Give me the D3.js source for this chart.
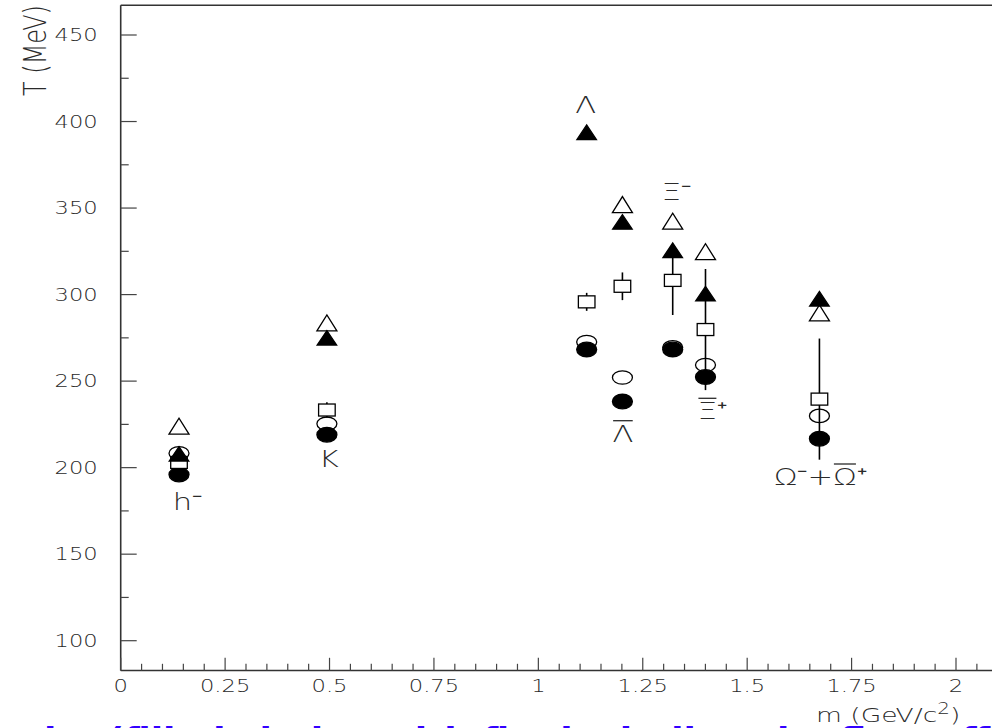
<!DOCTYPE html>
<html>
<head>
<meta charset="utf-8">
<script src="https://cdn.jsdelivr.net/npm/d3@7"></script>
<style>
  html, body { margin: 0; padding: 0; background: #fff; overflow: hidden; }
  svg { display: block; }
  text { font-family: "DejaVu Sans", "Liberation Sans", sans-serif; font-weight: 200; }
</style>
</head>
<body>
<svg id="chart" width="992" height="728"></svg>
<script>
// Particle species, plotted at (slightly shifted) mass in GeV/c^2
const particles = ["h⁻", "K", "Λ", "Λ⁻", "Ξ⁻", "Ξ⁺", "Ω⁻+Ω⁺"];
const mass = [0.1396, 0.4937, 1.1157, 1.2013, 1.3217, 1.4002, 1.673];

// Inverse slope T (MeV) for each marker series
const openTriangle   = [224.0, 283.6, null, 352.0, 342.4, 324.8, 289.4];
const filledTriangle = [208.0, 275.0, 393.8, 342.0, 325.6, 300.5, 297.6];
const openSquare     = [203.0, 233.3, 295.8, 304.8, 308.2, 279.8, 239.6];
const squareError    = [2.0, 4.5, 5.2, 8.0, 20.0, 35.0, 35.0];
const openCircle     = [208.3, 225.4, 272.6, 252.1, 269.5, 259.3, 229.9];
const filledCircle   = [196.0, 219.0, 268.3, 238.2, 268.3, 252.4, 216.7];

// Axis ticks
const xMajorTicks = [0, 0.25, 0.5, 0.75, 1, 1.25, 1.5, 1.75, 2];
const xTickLabels = ["0", "0.25", "0.5", "0.75", "1", "1.25", "1.5", "1.75", "2"];
const yMajorTicks = [100, 150, 200, 250, 300, 350, 400, 450];
const yTickLabels = ["100", "150", "200", "250", "300", "350", "400", "450"];

const svg = d3.select("#chart");
const SX = 1.33;          // wide-lettering stretch of all plot text
const ink = "#000";
const textInk = "#2a2a2a";

const x = d3.scaleLinear().domain([0, 2]).range([120.7, 956]);
const y = d3.scaleLinear().domain([100, 450]).range([640.7, 35]);

const frameTop = 5.3, frameBottom = 670.5;
const xEnd = x(2.3);

// caption running along the bottom edge
svg.append("text")
  .attr("x", 44).attr("y", 753)
  .attr("font-size", 36)
  .style("font-weight", "bold")
  .attr("fill", "#3300ff")
  .text("lts (filled circles with fits including the flow effect) of the");

// frame
const frame = svg.append("g").attr("fill", "none").attr("stroke", "#333").attr("stroke-width", 1.6);
frame.append("line").attr("x1", x(0)).attr("x2", xEnd).attr("y1", frameTop).attr("y2", frameTop);
frame.append("line").attr("x1", x(0)).attr("x2", x(0)).attr("y1", frameTop).attr("y2", frameBottom);
frame.append("line").attr("x1", x(0)).attr("x2", xEnd).attr("y1", frameBottom).attr("y2", frameBottom);

// x ticks (minor every 0.05, major every 0.25)
const tickG = svg.append("g").attr("stroke", "#444").attr("stroke-width", 1.2);
d3.range(0, 47).map(i => +(i * 0.05).toFixed(2)).forEach(v => {
  const major = Math.abs(v / 0.25 - Math.round(v / 0.25)) < 1e-6;
  tickG.append("line")
    .attr("x1", x(v)).attr("x2", x(v))
    .attr("y1", frameBottom).attr("y2", frameBottom - (major ? 12.7 : 6.7));
});
// y ticks (minor every 25, major every 50)
d3.range(100, 451, 25).forEach(v => {
  const major = v % 50 === 0;
  tickG.append("line")
    .attr("x1", x(0)).attr("x2", x(0) + (major ? 16 : 8))
    .attr("y1", y(v)).attr("y2", y(v));
});

function wide(gx, gy, str, size, anchor) {
  return svg.append("text")
    .attr("transform", `translate(${gx},${gy}) scale(${SX},1)`)
    .attr("font-size", size)
    .attr("text-anchor", anchor || "start")
    .attr("fill", textInk)
    .text(str);
}

xMajorTicks.forEach((v, i) => wide(x(v), 691.7, xTickLabels[i], 17, "middle"));
yMajorTicks.forEach((v, i) => wide(97.7, y(v) + 6.2, yTickLabels[i], 17, "end"));

// axis titles
svg.append("text")
  .attr("transform", `translate(46,96) scale(${SX},1) rotate(-90)`)
  .attr("font-size", 24)
  .attr("fill", textInk)
  .text("T (MeV)");

const xt = svg.append("text")
  .attr("transform", `translate(816,722) scale(${SX},1)`)
  .attr("font-size", 20)
  .attr("fill", textInk);
xt.append("tspan").text("m (GeV/c");
xt.append("tspan").attr("font-size", 15).attr("dy", -8).text("2");
xt.append("tspan").attr("dy", 8).text(")");

// markers
const marks = svg.append("g").attr("stroke", ink).attr("stroke-width", 1.3);

// error bars on the square series
mass.forEach((m, i) => {
  marks.append("line")
    .attr("x1", x(m)).attr("x2", x(m))
    .attr("y1", y(openSquare[i] - squareError[i]))
    .attr("y2", y(openSquare[i] + squareError[i]))
    .attr("stroke-width", 1.6);
});

function tri(cx, cy, w, h) {
  return `M${cx - w / 2},${cy + h / 2}L${cx + w / 2},${cy + h / 2}L${cx},${cy - h / 2}Z`;
}

mass.forEach((m, i) => {
  marks.append("ellipse")
    .attr("cx", x(m)).attr("cy", y(openCircle[i]))
    .attr("rx", 10).attr("ry", 6.7)
    .attr("fill", "none");
});
mass.forEach((m, i) => {
  marks.append("ellipse")
    .attr("cx", x(m)).attr("cy", y(filledCircle[i]))
    .attr("rx", 10).attr("ry", 7.3)
    .attr("fill", ink);
});
mass.forEach((m, i) => {
  marks.append("rect")
    .attr("x", x(m) - 8.3).attr("y", y(openSquare[i]) - 6)
    .attr("width", 16.6).attr("height", 12)
    .attr("fill", "#fff");
});
mass.forEach((m, i) => {
  if (openTriangle[i] == null) return;
  marks.append("path")
    .attr("d", tri(x(m), y(openTriangle[i]), 20, 16))
    .attr("fill", "none");
});
mass.forEach((m, i) => {
  marks.append("path")
    .attr("d", tri(x(m), y(filledTriangle[i]), 19.5, 14.5))
    .attr("fill", ink);
});

// species labels; the anti-particle bar is drawn over the named character
const labelLayout = [
  { dx: 8.5, y: 510,   bar: null },
  { dx: 2,   y: 467.3, bar: null },
  { dx: -1,  y: 113.3, bar: null },
  { dx: 0.5, y: 441.7, bar: 0 },
  { dx: 3.7, y: 200,   bar: null },
  { dx: 7,   y: 419.3, bar: 0 },
  { dx: 1,   y: 485,   bar: 3 }
];
particles.forEach((p, i) => {
  const L = labelLayout[i];
  // "Λ⁻" stands for the barred Λ: only the letter is drawn, the bar goes on top
  const str = i === 3 ? "Λ" : p;
  const g = svg.append("g").attr("transform", `translate(${x(mass[i]) + L.dx},${L.y}) scale(${SX},1)`);
  const t = g.append("text").attr("font-size", 23).attr("text-anchor", "middle")
    .attr("fill", textInk).text(str);
  if (L.bar != null) {
    const e = t.node().getExtentOfChar(L.bar);
    g.append("line")
      .attr("x1", e.x + 0.5).attr("x2", e.x + e.width - 0.5)
      .attr("y1", -21).attr("y2", -21)
      .attr("stroke", textInk).attr("stroke-width", 1.3);
  }
});
</script>
</body>
</html>
